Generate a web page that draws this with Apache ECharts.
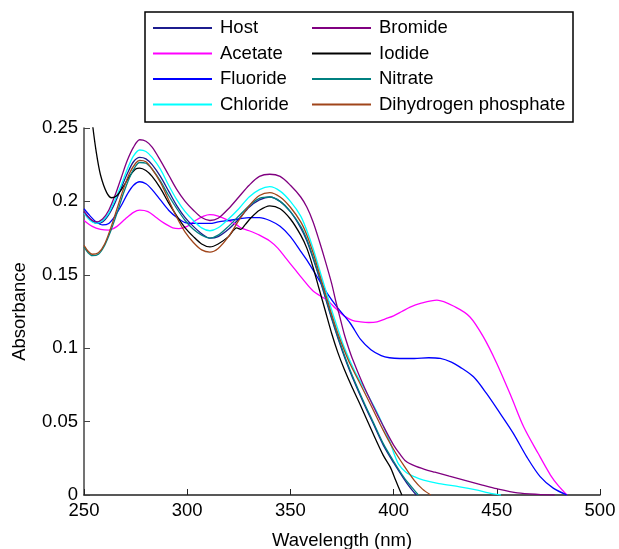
<!DOCTYPE html>
<html>
<head>
<meta charset="utf-8">
<script src="https://cdn.jsdelivr.net/npm/echarts@6/dist/echarts.min.js"></script>
<style>
  html, body { margin: 0; padding: 0; background: #fff; }
  #chart { width: 619px; height: 549px; }
</style>
</head>
<body>
<div id="chart"></div>
<script>
// [wavelength (nm), absorbance]
const host = [[250,0.193],[253,0.188],[256,0.185],[259,0.186],[262,0.191],[265,0.199],[268,0.209],[271,0.219],[274,0.227],[277,0.230],[280,0.229],[283,0.225],[287,0.217],[291,0.207],[295,0.197],[299,0.189],[303,0.183],[307,0.178],[311,0.175],[315,0.176],[320,0.181],[325,0.188],[330,0.196],[335,0.201],[340,0.203],[345,0.200],[350,0.193],[355,0.182],[358,0.173],[361,0.161],[364,0.148],[367,0.134],[370,0.120],[373,0.107],[377,0.091],[381,0.077],[386,0.061],[390,0.049],[395,0.034],[400,0.022],[405,0.011],[408,0.005],[411,0]];
const acetate = [[250,0.187],[254,0.183],[258,0.181],[262,0.1805],[266,0.183],[270,0.188],[274,0.1925],[277,0.194],[281,0.193],[285,0.189],[289,0.185],[293,0.182],[296,0.1815],[300,0.183],[304,0.187],[308,0.190],[311,0.191],[315,0.190],[320,0.187],[324,0.184],[326,0.182],[330,0.180],[335,0.177],[340,0.173],[344,0.168],[348,0.161],[352,0.154],[356,0.147],[361,0.139],[368,0.1325],[372,0.127],[376,0.122],[380,0.119],[384,0.118],[388,0.1175],[392,0.118],[396,0.120],[400,0.122],[404,0.125],[408,0.128],[413,0.1305],[421,0.1327],[430,0.128],[437,0.1213],[443.5,0.1077],[450,0.0896],[457,0.0669],[463,0.0465],[470,0.0284],[476,0.0136],[480,0.006],[484,0]];
const fluoride = [[250,0.195],[253,0.190],[256,0.186],[259,0.184],[262,0.185],[265,0.190],[268,0.197],[271,0.205],[274,0.211],[277,0.2134],[280,0.212],[283,0.208],[287,0.201],[291,0.194],[295,0.189],[299,0.1855],[303,0.185],[307,0.185],[311,0.185],[315,0.186],[320,0.187],[325,0.188],[330,0.189],[335,0.189],[340,0.187],[345,0.183],[350,0.176],[355,0.166],[358,0.160],[363,0.1485],[368,0.137],[372.6,0.128],[379,0.117],[384,0.106],[389,0.099],[394,0.095],[398,0.0935],[403,0.093],[410,0.093],[417,0.0935],[422.6,0.093],[428,0.0905],[432,0.0873],[438.7,0.0805],[445,0.0692],[451.6,0.0556],[458,0.042],[464.5,0.026],[471,0.0125],[477.5,0.0045],[484,0]];
const chloride = [[250,0.192],[253,0.187],[256,0.185],[259,0.187],[262,0.192],[265,0.201],[268,0.211],[271,0.222],[274,0.231],[277,0.235],[280,0.234],[283,0.230],[287,0.222],[291,0.211],[295,0.201],[299,0.193],[303,0.187],[307,0.182],[311,0.180],[315,0.182],[320,0.188],[325,0.195],[330,0.203],[335,0.208],[340,0.210],[345,0.207],[350,0.200],[355,0.190],[358,0.180],[361,0.168],[364,0.154],[367,0.140],[370,0.126],[373,0.113],[376,0.101],[379,0.091],[382,0.082],[386,0.072],[391,0.059],[395,0.047],[398,0.037],[400,0.029],[402.4,0.021],[406,0.0155],[410,0.0125],[414.5,0.0102],[422,0.0078],[432,0.0056],[440,0.0035],[446,0.0015],[452,0]];
const bromide = [[250,0.193],[253,0.188],[256,0.186],[259,0.188],[262,0.194],[265,0.204],[268,0.216],[271,0.228],[274,0.237],[277,0.242],[280,0.241],[283,0.237],[287,0.228],[291,0.218],[295,0.208],[299,0.200],[303,0.194],[307,0.189],[311,0.187],[315,0.1885],[320,0.195],[325,0.203],[330,0.211],[335,0.217],[340,0.2185],[345,0.217],[350,0.211],[355,0.203],[358,0.196],[361,0.186],[364,0.173],[367,0.159],[370,0.144],[372,0.132],[374,0.121],[376,0.110],[378,0.101],[380,0.093],[385,0.076],[390,0.061],[395,0.047],[400,0.034],[403,0.028],[406,0.023],[410,0.020],[415,0.0175],[420,0.0155],[427,0.0128],[435,0.0098],[443,0.0068],[450,0.0043],[460,0.0015],[470,0.0004],[478,0]];
const iodide = [[250,0.30],[252,0.28],[254,0.254],[256,0.233],[258,0.218],[261,0.206],[263.5,0.2025],[266,0.204],[269,0.210],[272,0.217],[275,0.222],[277,0.2227],[280,0.221],[283,0.217],[287,0.209],[291,0.199],[295,0.190],[299,0.182],[303,0.176],[307,0.171],[311,0.169],[315,0.171],[320,0.176],[324,0.182],[326,0.181],[328,0.184],[331,0.189],[335,0.194],[340,0.197],[345,0.195],[350,0.188],[355,0.177],[358,0.168],[361,0.155],[364,0.140],[367,0.125],[370,0.110],[373,0.097],[376,0.086],[380,0.073],[384,0.061],[390,0.042],[395,0.027],[398.4,0.019],[401,0.010],[404,0]];
const nitrate = [[250,0.169],[252,0.165],[254,0.163],[257,0.164],[260,0.170],[263,0.180],[266,0.192],[269,0.205],[272,0.216],[275,0.224],[277,0.2265],[280,0.226],[283,0.222],[287,0.214],[291,0.204],[295,0.195],[299,0.187],[303,0.181],[307,0.177],[311,0.175],[315,0.177],[320,0.183],[325,0.190],[330,0.197],[335,0.202],[340,0.203],[345,0.200],[350,0.193],[355,0.183],[358,0.174],[361,0.162],[364,0.149],[367,0.135],[370,0.121],[373,0.108],[377,0.092],[381,0.078],[386,0.062],[390,0.050],[395,0.035],[400,0.023],[405,0.012],[409,0.005],[412,0]];
const phosphate = [[250,0.170],[252,0.166],[254,0.164],[257,0.165],[260,0.171],[263,0.182],[266,0.195],[269,0.208],[272,0.219],[275,0.226],[277,0.228],[280,0.227],[283,0.222],[287,0.213],[291,0.201],[295,0.189],[299,0.179],[303,0.172],[307,0.167],[311,0.1655],[315,0.168],[320,0.176],[325,0.187],[330,0.197],[335,0.204],[340,0.206],[345,0.203],[350,0.196],[355,0.186],[358,0.177],[361,0.165],[364,0.151],[367,0.137],[370,0.123],[373,0.110],[376,0.099],[379,0.089],[383,0.078],[388.7,0.062],[395,0.044],[400,0.031],[405,0.020],[410,0.010],[414,0.004],[418,0]];

const names = ['Host', 'Acetate', 'Fluoride', 'Chloride', 'Bromide', 'Iodide', 'Nitrate', 'Dihydrogen phosphate'];
const colors = ['#1c1c8e', '#ff00ff', '#0000ff', '#00ffff', '#800080', '#000000', '#008080', '#a0451a'];
const allData = [host, acetate, fluoride, chloride, bromide, iodide, nitrate, phosphate];

const font = 'Liberation Sans, Arial, sans-serif';

const chart = echarts.init(document.getElementById('chart'));

const legendBase = {
  orient: 'vertical',
  icon: 'rect',
  itemWidth: 59,
  itemHeight: 2,
  itemGap: 5.5,
  top: 18,
  padding: 0,
  textStyle: { fontFamily: font, fontSize: 18.5, color: '#000', lineHeight: 20, padding: [0, 0, 0, 3] }
};

const option = {
  animation: false,
  backgroundColor: '#fff',
  graphic: [{
    type: 'rect',
    z: 1,
    shape: { x: 145, y: 12, width: 428, height: 110 },
    style: { fill: '#fff', stroke: '#000', lineWidth: 1.5 }
  }],
  legend: [
    Object.assign({}, legendBase, { left: 153, data: names.slice(0, 4) }),
    Object.assign({}, legendBase, { left: 312, data: names.slice(4) })
  ],
  grid: { left: 84, right: 19, top: 128, bottom: 54, containLabel: false, outerBoundsMode: 'none' },
  xAxis: {
    type: 'value',
    min: 250,
    max: 500,
    interval: 50,
    name: 'Wavelength (nm)',
    nameLocation: 'middle',
    nameGap: 36,
    nameTextStyle: { fontFamily: font, fontSize: 18.5, color: '#000' },
    axisLine: { lineStyle: { color: '#222', width: 1.5 } },
    axisTick: { inside: true, length: 6, lineStyle: { color: '#222' } },
    axisLabel: { fontFamily: font, fontSize: 18.5, color: '#000', margin: 6 },
    splitLine: { show: false }
  },
  yAxis: {
    type: 'value',
    min: 0,
    max: 0.25,
    interval: 0.05,
    name: 'Absorbance',
    nameLocation: 'middle',
    nameGap: 55,
    nameTextStyle: { fontFamily: font, fontSize: 18.5, color: '#000' },
    axisLine: { show: true, lineStyle: { color: '#444', width: 1.5 } },
    axisTick: { show: true, inside: true, length: 6, lineStyle: { color: '#444' } },
    axisLabel: { fontFamily: font, fontSize: 18.5, color: '#000', margin: 6 },
    splitLine: { show: false }
  },
  series: names.map((name, i) => ({
    name: name,
    type: 'line',
    data: allData[i],
    color: colors[i],
    showSymbol: false,
    smooth: 0.3,
    clip: true,
    lineStyle: { width: 1.3, color: colors[i] }
  }))
};

chart.setOption(option);
</script>
</body>
</html>
